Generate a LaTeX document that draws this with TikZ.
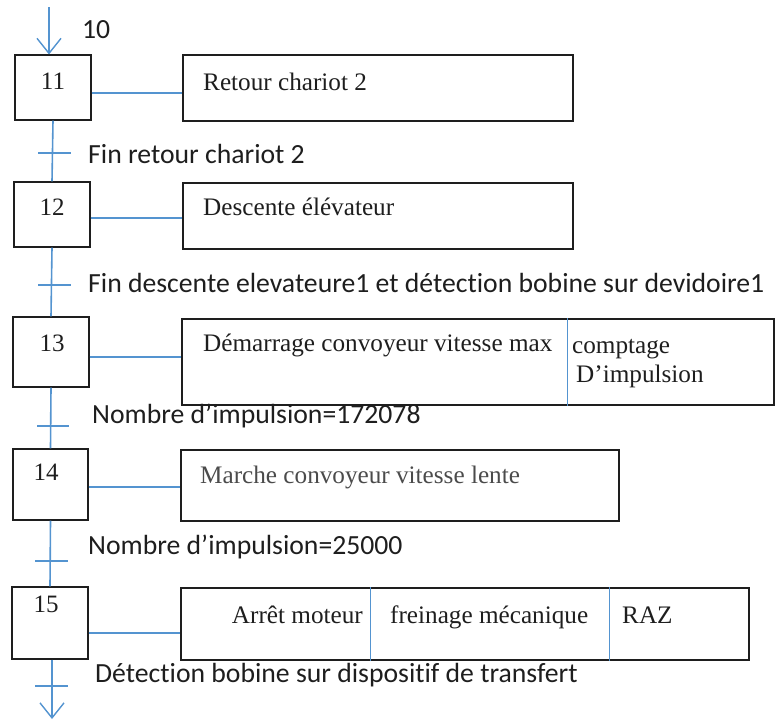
\documentclass[tikz,border=0pt]{standalone}
\usepackage{fontspec}
\setmainfont{Liberation Serif}
\newfontfamily\labfont[Ligatures=NoCommon]{Carlito}
\usetikzlibrary{arrows.meta}
\definecolor{linkblue}{RGB}{84,148,208}
\definecolor{ink}{RGB}{30,30,30}
\tikzset{
  stepbox/.style={draw=ink, line width=1.1pt, rectangle, inner sep=0pt, minimum width=76pt},
  actbox/.style={draw=ink, line width=1.1pt, rectangle, inner sep=0pt},
  link/.style={draw=linkblue, line width=1.6pt},
  divider/.style={draw=linkblue, line width=1pt},
  tickline/.style={draw=linkblue, line width=1.6pt},
  flowarrow/.style={link, -{Straight Barb[length=15pt, width=24pt, line width=1.4pt]}},
  numtxt/.style={inner sep=0pt, anchor=base, text=ink, font=\fontsize{25}{30}\selectfont},
  acttxt/.style={inner sep=0pt, anchor=base west, text=ink, font=\fontsize{25.2}{30}\selectfont},
  lab/.style={inner sep=0pt, anchor=base west, text=ink, font=\labfont\fontsize{27.7}{33}\selectfont}
}
\begin{document}
\begin{tikzpicture}[x=1pt, y=-1pt]
\useasboundingbox (0,0) rectangle (778,721);

% step boxes
\node[stepbox, minimum height=65pt] (s11) at (53,87.5) {};
\node[stepbox, minimum height=65pt] (s12) at (52,214.5) {};
\node[stepbox, minimum height=70pt] (s13) at (51,352) {};
\node[stepbox, minimum height=71pt, minimum width=75pt] (s14) at (50.5,484.5) {};
\node[stepbox, minimum height=72pt] (s15) at (50,623) {};

% step numbers
\node[numtxt] (n11) at (53,89) {11};
\node[numtxt] (n12) at (52,215) {12};
\node[numtxt] (n13) at (52,351) {13};
\node[numtxt] (n14) at (46,480) {14};
\node[numtxt] (n15) at (46,612) {15};

% action boxes
\node[actbox, minimum width=390pt, minimum height=66pt] (a11) at (378,88) {};
\node[actbox, minimum width=390pt, minimum height=66pt] (a12) at (378,216) {};
\node[actbox, minimum width=592pt, minimum height=86pt] (a13) at (478,362) {};
\node[actbox, minimum width=438pt, minimum height=71pt] (a14) at (400,485.5) {};
\node[actbox, minimum width=568pt, minimum height=72pt] (a15) at (465,624) {};

% dividers in action boxes
\draw[divider] (a13.north -| 567,0) -- (a13.south -| 567,0);
\draw[divider] (a15.north -| 370,0) -- (a15.south -| 370,0);
\draw[divider] (a15.north -| 609,0) -- (a15.south -| 609,0);

% action texts
\node[acttxt] (t11) at (203,90) {Retour chariot 2};
\node[acttxt] (t12) at (203,215) {Descente élévateur};
\node[acttxt] (t13a) at (203,351) {Démarrage convoyeur vitesse max};
\node[acttxt] (t13b) at (572,353) {comptage};
\node[acttxt] (t13c) at (576,382) {D’impulsion};
\node[acttxt, text=ink!80] (t14) at (200,483) {Marche convoyeur vitesse lente};
\node[inner sep=0pt, anchor=base east, text=ink, font=\fontsize{25.2}{30}\selectfont] (t15a) at (363,623) {Arrêt moteur};
\node[acttxt] (t15b) at (390,623) {freinage mécanique};
\node[acttxt] (t15c) at (622,623) {RAZ};

% links step -> action
\draw[link] (s11.east |- 0,93) -- (a11.west |- 0,93);
\draw[link] (s12.east |- 0,218) -- (a12.west |- 0,218);
\draw[link] (s13.east |- 0,357) -- (a13.west |- 0,357);
\draw[link] (s14.east |- 0,487) -- (a14.west |- 0,487);
\draw[link] (s15.east |- 0,633) -- (a15.west |- 0,633);

% vertical flow
\coordinate (start) at (49,7);
\coordinate (finish) at (52,719);
\draw[flowarrow] (start) -- (start |- s11.north);
\draw[link] (s11.south) -- (s12.north);
\draw[link] (s12.south) -- (s13.north);
\draw[link] (s13.south) -- (s14.north);
\draw[link] (s14.south) -- (s15.north);
\draw[flowarrow] (s15.south -| finish) -- (finish);

% transition ticks
\draw[tickline] (38,153) -- (71,153);
\draw[tickline] (38,285) -- (71,285);
\draw[tickline] (37,426) -- (69,426);
\draw[tickline] (35,561) -- (68,561);
\draw[tickline] (35,686) -- (68,686);

% labels
\node[lab] (l10) at (82,38) {10};
\node[lab] (l1) at (88,163) {Fin retour chariot 2};
\node[lab] (l2) at (88,292) {Fin descente elevateure1 et détection bobine sur devidoire1};
\node[lab] (l3) at (92,423) {Nombre d’impulsion=172078};
\node[lab] (l4) at (88,554) {Nombre d’impulsion=25000};
\node[lab] (l5) at (95,682) {Détection bobine sur dispositif de transfert};
\end{tikzpicture}
\end{document}
